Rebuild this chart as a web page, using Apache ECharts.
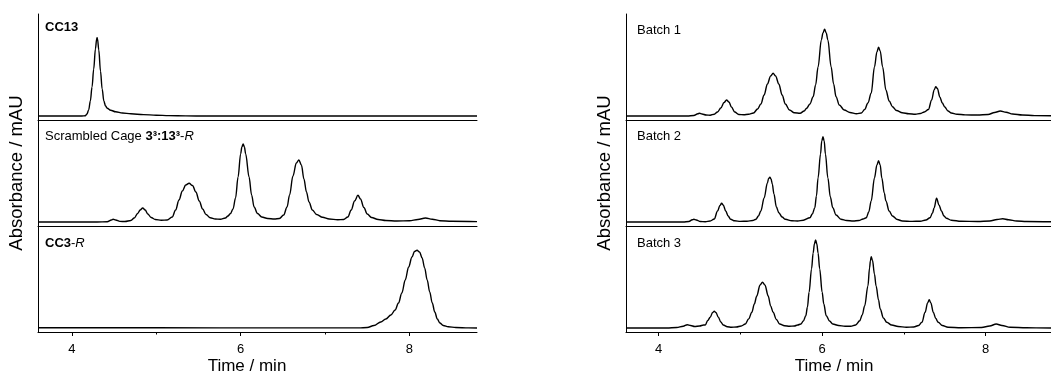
<!DOCTYPE html>
<html>
<head>
<meta charset="utf-8">
<script src="https://cdn.jsdelivr.net/npm/echarts@6/dist/echarts.min.js"></script>
<style>
html,body{margin:0;padding:0;background:#fff;}
#chart{width:1051px;height:374px;}
</style>
</head>
<body>
<div id="chart"></div>
<script>
// ---- DATA (time / min, absorbance in arbitrary units above baseline) ----
const majorTicks = [4, 6, 8];
const minorTicks = [5, 7];
const xTitle = 'Time / min';
const yTitle = 'Absorbance / mAU';
const leftLabels = ['{b|CC13}', 'Scrambled Cage {b|3³:13³}-{i|R}', '{b|CC3}-{i|R}'];
const rightLabels = ['Batch 1', 'Batch 2', 'Batch 3'];

const cc13 = [[3.6,0],[4.0,0],[4.12,0],[4.16,0.3],[4.18,2],[4.20,6],[4.22,15],[4.24,29],[4.26,47],[4.28,67],[4.295,77],[4.30,78.3],[4.305,77],[4.32,66],[4.34,45],[4.36,27],[4.38,15],[4.40,10],[4.42,7.8],[4.46,5.8],[4.52,4.2],[4.6,3.0],[4.7,2.2],[4.85,1.4],[5.0,0.8],[5.15,0.4],[5.35,0.1],[5.6,0],[8.8,0]];

const scrambled = [[3.6,0],[4.3,0],[4.42,0.3],[4.47,2],[4.49,2.7],[4.52,2],[4.57,0.6],[4.63,0.5],[4.70,1.5],[4.74,4],[4.78,8.5],[4.81,12],[4.84,14],[4.87,12],[4.90,8],[4.94,4.5],[4.99,2.5],[5.06,1.8],[5.13,2],[5.19,5],[5.23,12],[5.27,22],[5.31,31],[5.35,37],[5.39,38.7],[5.43,36.5],[5.47,30],[5.51,21],[5.55,13],[5.59,7.5],[5.64,4.2],[5.70,3],[5.76,2.8],[5.82,4],[5.85,6],[5.88,8.5],[5.91,13],[5.94,24],[5.97,45],[6.00,68],[6.015,75],[6.03,78],[6.045,75],[6.06,68],[6.10,45],[6.13,27],[6.16,15],[6.20,8.5],[6.25,5],[6.32,3.5],[6.40,3],[6.46,3.5],[6.51,7],[6.55,15],[6.58,27],[6.62,46],[6.66,59],[6.69,62],[6.72,57],[6.75,43],[6.78,30],[6.81,20],[6.85,12],[6.90,7.5],[6.97,4.7],[7.05,3],[7.15,2.2],[7.22,2.5],[7.27,5],[7.31,12],[7.35,21],[7.39,26.7],[7.42,23],[7.46,14.5],[7.50,8],[7.55,4.5],[7.63,2.5],[7.72,1.5],[7.85,1.0],[8.0,1.2],[8.10,2.5],[8.19,4],[8.27,2.8],[8.36,1.3],[8.5,0.7],[8.8,0.4]];

const cc3 = [[3.6,0.3],[5.0,0.2],[6.5,0.1],[7.4,0.1],[7.5,0.5],[7.58,2.5],[7.66,6],[7.72,9],[7.78,13],[7.83,18],[7.87,25],[7.91,35],[7.95,48],[7.99,61],[8.03,71],[8.06,76.5],[8.09,77.7],[8.12,76],[8.15,70],[8.18,60],[8.21,48],[8.24,36],[8.27,25],[8.30,16],[8.33,9],[8.36,5],[8.40,2.5],[8.46,1.2],[8.55,0.5],[8.7,0.1],[8.8,0]];

const batch1 = [[3.6,0],[4.35,0],[4.43,0.5],[4.48,2.3],[4.50,2.7],[4.53,2],[4.58,1],[4.63,0.8],[4.68,1.8],[4.72,4],[4.76,8],[4.80,13.5],[4.83,16],[4.86,14],[4.89,9],[4.93,4],[4.98,1.5],[5.04,1.2],[5.10,1.8],[5.16,3],[5.21,7],[5.25,12],[5.29,21],[5.33,32],[5.37,40],[5.40,42.7],[5.43,40],[5.47,32],[5.51,21],[5.55,12],[5.60,6],[5.66,3.3],[5.73,2.7],[5.78,5],[5.81,7.7],[5.85,12],[5.89,19.3],[5.92,31],[5.95,49],[5.99,76],[6.01,83],[6.03,86.7],[6.05,83],[6.07,76],[6.11,49],[6.14,32],[6.17,19.3],[6.21,11],[6.27,6],[6.34,3.5],[6.42,2.2],[6.48,3],[6.52,6.5],[6.56,13],[6.60,22.7],[6.64,49],[6.67,64],[6.69,68.7],[6.71,65],[6.74,49],[6.78,26],[6.82,15],[6.86,9.3],[6.91,5.5],[6.98,3.3],[7.06,2.3],[7.14,1.8],[7.20,2.5],[7.25,4],[7.30,6.5],[7.34,16],[7.37,26],[7.39,29.3],[7.41,27.5],[7.44,19],[7.47,13],[7.50,9],[7.54,5],[7.58,3],[7.65,1.8],[7.75,1.1],[7.9,1.0],[8.03,1.5],[8.11,3.5],[8.18,5],[8.25,3.8],[8.33,2],[8.45,1],[8.6,0.4],[8.8,0.2]];

const batch2 = [[3.6,0],[4.3,0],[4.37,0.5],[4.41,2.2],[4.43,2.7],[4.46,2],[4.51,0.5],[4.57,0.3],[4.63,1],[4.68,3],[4.72,11],[4.75,16.5],[4.77,18.7],[4.79,17],[4.82,11],[4.85,6],[4.88,2.7],[4.93,1.2],[5.0,0.6],[5.08,0.8],[5.15,1.5],[5.19,2.7],[5.22,6],[5.25,11],[5.29,24],[5.33,39],[5.345,43.5],[5.36,44.7],[5.375,43],[5.39,38],[5.41,28],[5.44,15],[5.47,9.3],[5.51,5],[5.55,2.7],[5.63,1.2],[5.70,1.0],[5.77,1.8],[5.85,4.3],[5.88,8],[5.91,14.3],[5.93,26],[5.95,44],[5.98,68],[5.995,81],[6.01,85.3],[6.025,81],[6.04,68],[6.07,44],[6.10,25],[6.13,14.3],[6.17,7],[6.23,2.7],[6.30,1.5],[6.38,1],[6.45,1.5],[6.50,3],[6.54,4.3],[6.57,10],[6.60,21],[6.64,44],[6.67,57],[6.69,61.3],[6.71,57],[6.73,44],[6.76,29],[6.78,21],[6.82,11],[6.86,6],[6.92,2.5],[6.98,1],[7.1,0.6],[7.2,0.8],[7.27,2],[7.32,4.3],[7.35,9],[7.37,14],[7.40,23.7],[7.43,17],[7.46,11],[7.49,6],[7.52,3.7],[7.58,1.8],[7.7,0.7],[7.9,0.5],[8.05,1],[8.14,2.5],[8.21,3.3],[8.28,2.3],[8.38,1],[8.5,0.5],[8.8,0.2]];

const batch3 = [[3.6,0],[4.1,0],[4.22,0.5],[4.30,1.8],[4.35,3.3],[4.39,2.5],[4.44,1.5],[4.50,2],[4.55,3],[4.57,3],[4.60,7.5],[4.63,10.7],[4.66,15.5],[4.68,16.7],[4.70,15.5],[4.73,10.7],[4.76,6],[4.79,3],[4.84,1.3],[4.89,0.7],[4.95,1],[5.01,2],[5.06,4],[5.10,9],[5.14,15.7],[5.17,24],[5.20,32],[5.24,43],[5.27,45.7],[5.30,43],[5.34,32],[5.37,22],[5.40,15.7],[5.44,8.5],[5.48,4],[5.54,2.3],[5.60,1.7],[5.66,2],[5.70,3],[5.74,4],[5.77,7],[5.80,12.3],[5.82,21],[5.84,35.7],[5.87,59],[5.89,75],[5.905,84],[5.92,88],[5.935,84],[5.95,75],[5.97,59],[6.00,35.7],[6.02,24],[6.05,12.3],[6.09,7],[6.13,4],[6.20,2.5],[6.28,1.8],[6.35,1.7],[6.41,3],[6.46,7.3],[6.49,13],[6.52,22],[6.56,42],[6.58,60],[6.59,67],[6.60,71.3],[6.615,68],[6.64,54],[6.66,42],[6.69,28],[6.71,19],[6.75,10],[6.79,5.7],[6.85,3],[6.93,1.5],[7.03,0.7],[7.12,1],[7.18,2.5],[7.22,5.7],[7.26,15.7],[7.29,25],[7.31,28.3],[7.33,25],[7.36,15.7],[7.39,9.5],[7.42,5.7],[7.47,2.5],[7.54,0.7],[7.7,0.3],[7.95,0.5],[8.05,2],[8.13,4],[8.20,2.5],[8.30,0.7],[8.5,0.2],[8.8,0]];

// ---- CHART ----
const FONT = "'Liberation Sans', Arial, Helvetica, sans-serif";
const X_MIN = 3.6, X_MAX = 8.8;
const sides = [
  { left: 38, width: 439, traces: [cc13, scrambled, cc3], labels: leftLabels, labelX: 45, labelY: [27, 136, 243], titleX: 247 },
  { left: 626, width: 438, traces: [batch1, batch2, batch3], labels: rightLabels, labelX: 637, labelY: [30, 136, 243], titleX: 834 }
];
const tops = [14, 120, 226];
const H = 106;

const grid = [], xAxis = [], yAxis = [], series = [], graphic = [];
sides.forEach((s, si) => {
  tops.forEach((top, pi) => {
    const gi = grid.length;
    grid.push({ left: s.left, top: top, width: s.width, height: H, containLabel: false });
    const bottom = pi === 2;
    xAxis.push({
      type: 'value', gridIndex: gi, min: X_MIN, max: X_MAX, position: 'bottom',
      axisLine: { show: true, onZero: false, lineStyle: { color: '#000', width: 1 } },
      axisTick: bottom ? { show: true, customValues: majorTicks, length: 4, inside: false, lineStyle: { color: '#000', width: 1 } } : { show: false },
      axisLabel: bottom ? { show: true, customValues: majorTicks, color: '#000', fontSize: 13, fontFamily: FONT, margin: 11 } : { show: false },
      splitLine: { show: false }
    });
    const mainX = xAxis.length - 1;
    if (bottom) {
      xAxis.push({
        type: 'value', gridIndex: gi, min: X_MIN, max: X_MAX, position: 'bottom', offset: 0,
        axisLine: { show: false, onZero: false },
        axisTick: { show: true, customValues: minorTicks, length: 2.5, inside: false, lineStyle: { color: '#000', width: 1 } },
        axisLabel: { show: false },
        splitLine: { show: false }
      });
    }
    const yi = yAxis.length;
    yAxis.push({
      type: 'value', gridIndex: gi, min: -4, max: 102,
      axisLine: { show: true, onZero: false, lineStyle: { color: '#000', width: 1 } },
      axisTick: { show: false }, axisLabel: { show: false }, splitLine: { show: false },
      name: pi === 1 ? yTitle : '',
      nameLocation: 'middle', nameRotate: 90, nameGap: 12,
      nameTextStyle: { color: '#000', fontSize: 18.5, fontFamily: FONT }
    });
    series.push({
      type: 'line', xAxisIndex: mainX, yAxisIndex: yi,
      data: s.traces[pi], showSymbol: false, symbol: 'none',
      smooth: 0.35, smoothMonotone: 'x',
      lineStyle: { color: '#000', width: 1.4 }, silent: true
    });
    graphic.push({
      type: 'text', x: s.labelX, y: s.labelY[pi], silent: true,
      style: {
        text: s.labels[pi], fill: '#000', fontSize: 13, fontFamily: FONT,
        verticalAlign: 'middle', align: 'left',
        rich: {
          b: { fontWeight: 'bold', fontSize: 13, fontFamily: FONT, fill: '#000' },
          i: { fontStyle: 'italic', fontSize: 13, fontFamily: FONT, fill: '#000' }
        }
      }
    });
  });
  graphic.push({
    type: 'text', x: s.titleX, y: 366, silent: true,
    style: { text: xTitle, fill: '#000', fontSize: 17, fontFamily: FONT, align: 'center', verticalAlign: 'middle' }
  });
});

const chart = echarts.init(document.getElementById('chart'), null, { renderer: 'canvas' });
chart.setOption({
  backgroundColor: '#fff',
  animation: false,
  grid, xAxis, yAxis, series, graphic
});
</script>
</body>
</html>
